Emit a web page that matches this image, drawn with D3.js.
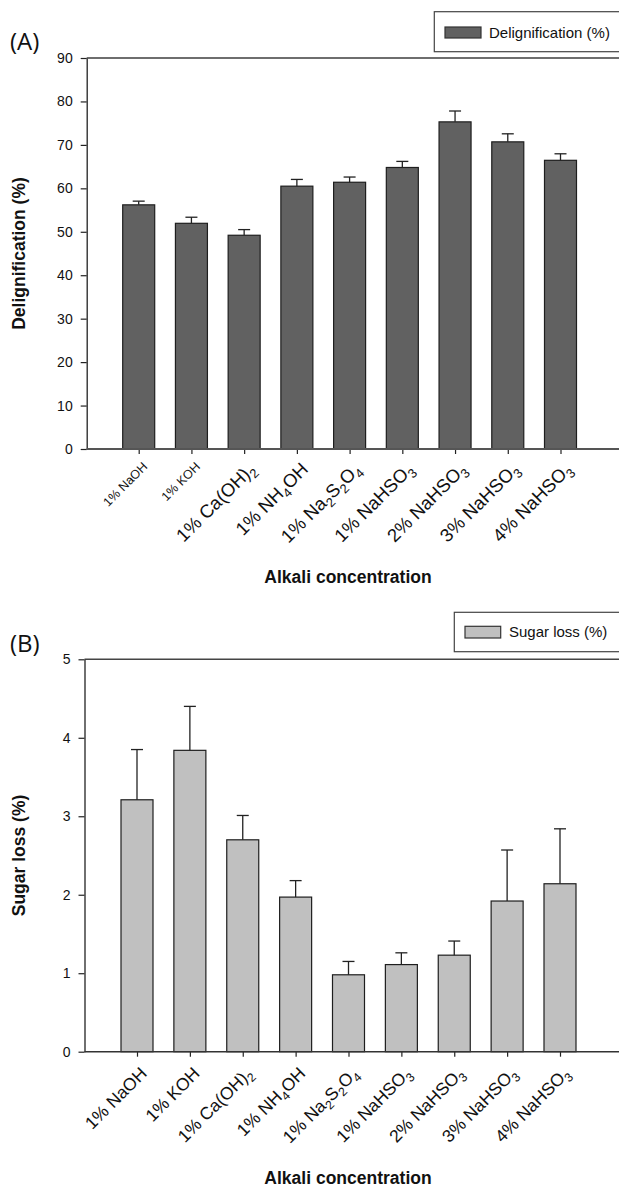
<!DOCTYPE html>
<html><head><meta charset="utf-8">
<script src="https://cdn.jsdelivr.net/npm/d3@7"></script>
<style>body{margin:0;background:#fff} svg{display:block}</style>
</head><body>
<svg id="c" width="619" height="1188"></svg>
<script>
const categories = ["1% NaOH","1% KOH","1% Ca(OH)2","1% NH4OH","1% Na2S2O4","1% NaHSO3","2% NaHSO3","3% NaHSO3","4% NaHSO3"];
const delignification = [56.2,51.95,49.2,60.5,61.4,64.8,75.3,70.7,66.45];
const delignificationErr = [0.85,1.4,1.3,1.55,1.2,1.4,2.5,1.85,1.5];
const sugarLoss = [3.21,3.84,2.70,1.97,0.98,1.11,1.23,1.92,2.14];
const sugarLossErr = [0.64,0.56,0.31,0.21,0.17,0.15,0.18,0.65,0.70];
const yTicksA = [0,10,20,30,40,50,60,70,80,90];
const yTicksB = [0,1,2,3,4,5];

const FONT = "'Liberation Sans', Arial, sans-serif";
const svg = d3.select("#c");

// split label into parts; digit after letter or ')' is subscript
function parts(s){
  const out=[]; let cur="", curSub=false;
  for(let i=0;i<s.length;i++){
    const ch=s[i], prev=i>0?s[i-1]:"";
    const sub=/[0-9]/.test(ch) && /[A-Za-z)]/.test(prev);
    if(sub!==curSub && cur){out.push([cur,curSub]); cur="";}
    curSub=sub; cur+=ch;
  }
  if(cur) out.push([cur,curSub]);
  return out;
}

function panel(cfg){
  const g = svg.append("g");
  const y = d3.scaleLinear().domain([0,cfg.yMax]).range([cfg.bottom,cfg.top]);
  const x = d3.scalePoint().domain(categories).range(cfg.xRange);

  // top frame line
  g.append("line").attr("x1",cfg.axisX).attr("x2",619).attr("y1",cfg.top).attr("y2",cfg.top)
    .attr("stroke",cfg.frameColor).attr("stroke-width",cfg.frameWidth);

  // bars
  g.selectAll("rect.bar").data(cfg.values).join("rect").attr("class","bar")
    .attr("x",(d,i)=>x(categories[i])-16).attr("width",32)
    .attr("y",d=>y(d)).attr("height",d=>y(0)-y(d))
    .attr("fill",cfg.fill).attr("stroke","#1e1e1e").attr("stroke-width",1.2);

  // error bars
  const eg = g.selectAll("g.err").data(cfg.values).join("g").attr("class","err");
  eg.append("line").attr("x1",(d,i)=>x(categories[i])).attr("x2",(d,i)=>x(categories[i]))
    .attr("y1",d=>y(d)).attr("y2",(d,i)=>y(d+cfg.errs[i])).attr("stroke","#222").attr("stroke-width",1.3);
  eg.append("line").attr("x1",(d,i)=>x(categories[i])-6).attr("x2",(d,i)=>x(categories[i])+6)
    .attr("y1",(d,i)=>y(d+cfg.errs[i])).attr("y2",(d,i)=>y(d+cfg.errs[i])).attr("stroke","#222").attr("stroke-width",1.3);

  // y axis
  const ya = g.append("g").attr("transform",`translate(${cfg.axisX},0)`)
    .call(d3.axisLeft(y).tickValues(cfg.ticks).tickFormat(d3.format("d")).tickSize(6).tickPadding(8).tickSizeOuter(0));
  ya.select(".domain").attr("stroke","#222").attr("stroke-width",1.3);
  ya.selectAll(".tick line").attr("stroke","#222").attr("stroke-width",1.2);
  ya.selectAll(".tick text").attr("font-family",FONT).attr("font-size",14).attr("fill","#111");

  // x axis
  const xa = g.append("g").attr("transform",`translate(0,${cfg.bottom})`)
    .call(d3.axisBottom(x).tickSize(5).tickFormat(""));
  xa.select(".domain").remove();
  xa.selectAll(".tick line").attr("stroke","#222").attr("stroke-width",1.2);
  g.append("line").attr("x1",cfg.axisX).attr("x2",619).attr("y1",cfg.bottom).attr("y2",cfg.bottom)
    .attr("stroke",cfg.baseColor).attr("stroke-width",cfg.baseWidth);

  // x labels (rotated)
  categories.forEach((c,i)=>{
    const fs = cfg.labelSizes[i];
    const t = g.append("text")
      .attr("transform",`translate(${x(c)+cfg.lab[0]},${cfg.bottom+cfg.lab[1]}) rotate(-45)`)
      .attr("text-anchor","end").attr("font-family",FONT).attr("font-size",fs).attr("fill","#111")
      .attr("y", fs*0.72);
    let shifted=false;
    parts(c).forEach(([s,sub])=>{
      const ts=t.append("tspan").text(s);
      if(sub){ ts.attr("font-size",fs*0.7).attr("dy",fs*0.26); shifted=true; }
      else if(shifted){ ts.attr("dy",-fs*0.26); shifted=false; }
    });
  });

  // axis titles
  g.append("text").attr("x",348).attr("y",cfg.xTitleY).attr("text-anchor","middle")
    .attr("font-family",FONT).attr("font-weight","bold").attr("font-size",17.5).attr("fill","#111")
    .text("Alkali concentration");
  g.append("text").attr("transform",`translate(${cfg.yTitleX},${(cfg.top+cfg.bottom)/2}) rotate(-90)`)
    .attr("text-anchor","middle").attr("font-family",FONT).attr("font-weight","bold")
    .attr("font-size",17.5).attr("fill","#111").text(cfg.yTitle);

  // panel label
  g.append("text").attr("x",cfg.pl[0]).attr("y",cfg.pl[1]).attr("font-family","'Open Sans', 'Noto Sans', sans-serif")
    .attr("font-size",24).attr("fill","#111").text(cfg.panelLabel);

  // legend
  const L = cfg.legend;
  g.append("rect").attr("x",L.x).attr("y",L.y).attr("width",660-L.x).attr("height",L.h)
    .attr("fill","#fff").attr("stroke","#444").attr("stroke-width",1.2);
  g.append("rect").attr("x",L.sx).attr("y",L.sy).attr("width",L.sw).attr("height",L.sh)
    .attr("fill",cfg.fill).attr("stroke","#333").attr("stroke-width",1.2);
  g.append("text").attr("x",L.tx).attr("y",L.ty).attr("font-family",FONT).attr("font-size",15)
    .attr("fill","#111").text(cfg.legendText);
}

panel({
  values: delignification, errs: delignificationErr, ticks: yTicksA, yMax: 90,
  axisX: 86.7, top: 58, bottom: 449, xRange: [138.7, 560.5],
  fill: "#616161", frameColor: "#6e6e6e", frameWidth: 2, baseColor: "#555", baseWidth: 1.8,
  labelSizes: [12.5,12.5,18.5,18.5,18.5,18.5,18.5,18.5,18.5], lab: [3,12],
  xTitleY: 583, yTitleX: 25, yTitle: "Delignification (%)",
  panelLabel: "(A)", pl: [10, 50],
  legend: {x:434.3, y:11.7, h:40, sx:445, sy:27, sw:36, sh:11, tx:489, ty:37.7},
  legendText: "Delignification (%)"
});

panel({
  values: sugarLoss, errs: sugarLossErr, ticks: yTicksB, yMax: 5,
  axisX: 84.5, top: 659.3, bottom: 1051.7, xRange: [137, 560],
  fill: "#c0c0c0", frameColor: "#444", frameWidth: 1.5, baseColor: "#333", baseWidth: 1.5,
  labelSizes: [17.5,17.5,17.5,17.5,17.5,17.5,17.5,17.5,17.5], lab: [2,14],
  xTitleY: 1184, yTitleX: 25, yTitle: "Sugar loss (%)",
  panelLabel: "(B)", pl: [10, 652],
  legend: {x:454.3, y:612.3, h:39.4, sx:465, sy:626.3, sw:35.7, sh:11.7, tx:509, ty:637.3},
  legendText: "Sugar loss (%)"
});
</script>
</body></html>
